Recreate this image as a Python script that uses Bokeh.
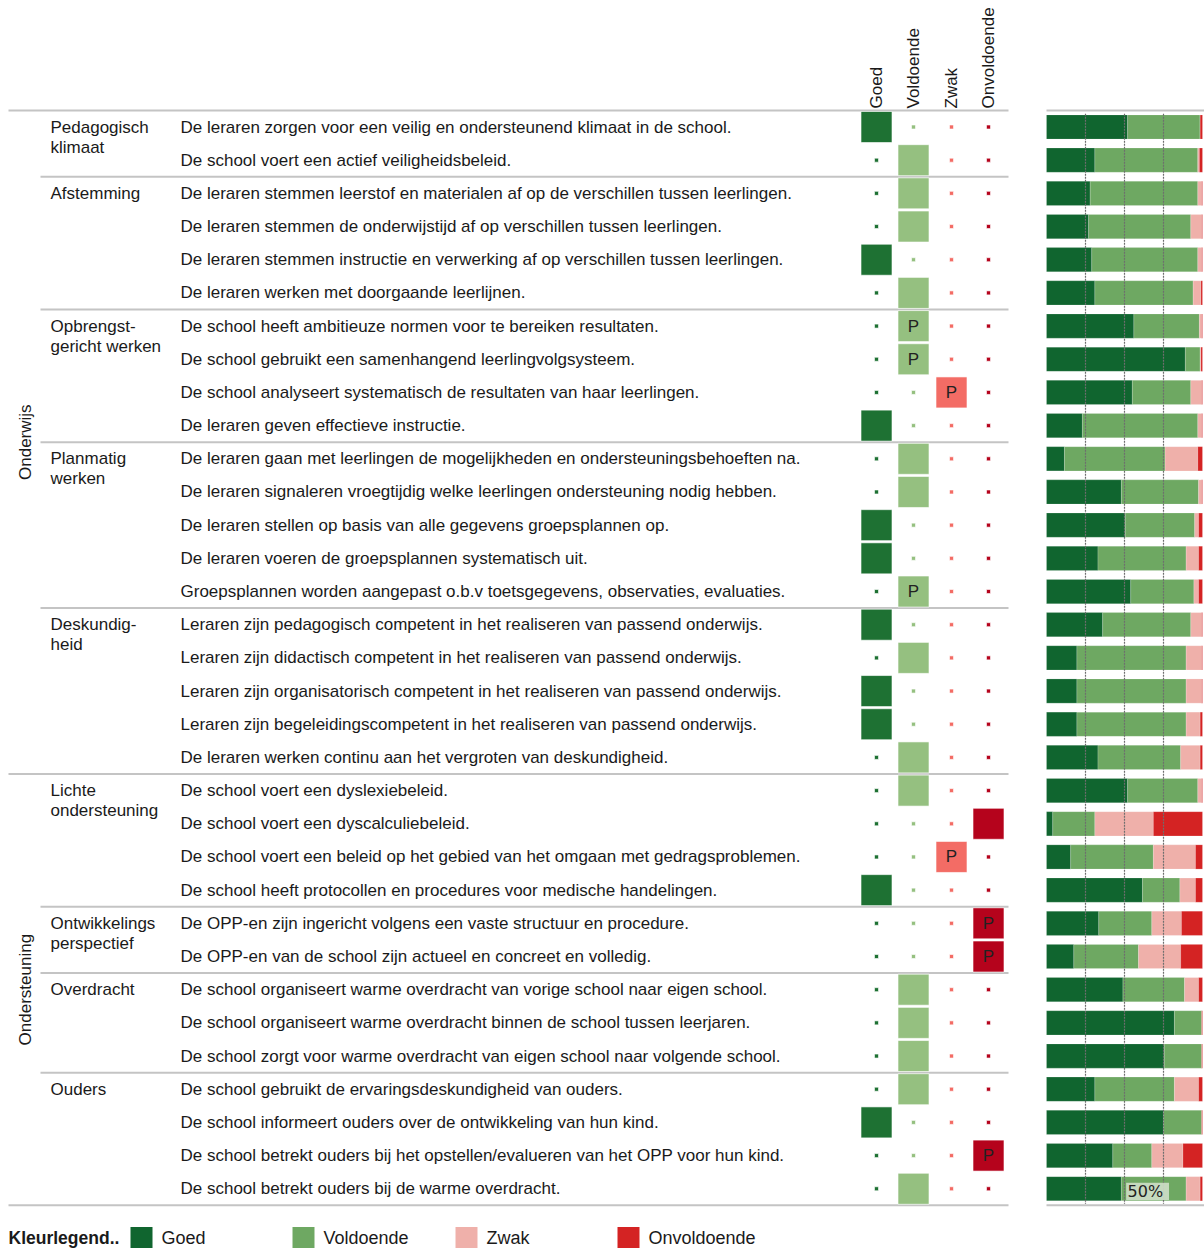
import math
from bokeh.plotting import figure
from bokeh.models import Range1d, ColumnDataSource
from bokeh.core.properties import value
from bokeh.embed import file_html
from bokeh.resources import INLINE

# ---------------- data ----------------
levels = ["Goed", "Voldoende", "Zwak", "Onvoldoende"]

sections = ["Onderwijs", "Ondersteuning"]
section_sizes = [20, 13]

groups = ["Pedagogisch\nklimaat", "Afstemming", "Opbrengst-\ngericht werken",
          "Planmatig\nwerken", "Deskundig-\nheid", "Lichte\nondersteuning",
          "Ontwikkelings\nperspectief", "Overdracht", "Ouders"]
group_sizes = [2, 4, 4, 5, 5, 4, 2, 3, 4]

items = [
    "De leraren zorgen voor een veilig en ondersteunend klimaat in de school.",
    "De school voert een actief veiligheidsbeleid.",
    "De leraren stemmen leerstof en materialen af op de verschillen tussen leerlingen.",
    "De leraren stemmen de onderwijstijd af op verschillen tussen leerlingen.",
    "De leraren stemmen instructie en verwerking af op  verschillen tussen leerlingen.",
    "De leraren werken met doorgaande leerlijnen.",
    "De school heeft ambitieuze normen voor te bereiken resultaten.",
    "De school gebruikt een samenhangend leerlingvolgsysteem.",
    "De school analyseert systematisch de resultaten van haar leerlingen.",
    "De leraren geven effectieve instructie.",
    "De leraren gaan met leerlingen de mogelijkheden en ondersteuningsbehoeften na.",
    "De leraren signaleren vroegtijdig welke leerlingen ondersteuning nodig hebben.",
    "De leraren stellen op basis van alle gegevens groepsplannen op.",
    "De leraren voeren de groepsplannen systematisch uit.",
    "Groepsplannen worden aangepast o.b.v toetsgegevens, observaties, evaluaties.",
    "Leraren zijn pedagogisch competent in het realiseren van passend onderwijs.",
    "Leraren zijn didactisch competent in het realiseren van passend onderwijs.",
    "Leraren zijn organisatorisch competent in het realiseren van passend onderwijs.",
    "Leraren zijn begeleidingscompetent in het realiseren van passend onderwijs.",
    "De leraren werken continu aan het vergroten van deskundigheid.",
    "De school voert een dyslexiebeleid.",
    "De school voert een dyscalculiebeleid.",
    "De school voert een beleid op het gebied van het omgaan met gedragsproblemen.",
    "De school heeft protocollen en procedures voor medische handelingen.",
    "De OPP-en zijn ingericht volgens een vaste structuur en procedure.",
    "De OPP-en van de school zijn actueel en concreet en volledig.",
    "De school organiseert warme overdracht van vorige school naar eigen school.",
    "De school organiseert warme overdracht binnen de school tussen leerjaren.",
    "De school zorgt voor warme overdracht van eigen school naar volgende school.",
    "De school gebruikt de ervaringsdeskundigheid van ouders.",
    "De school informeert ouders over de ontwikkeling van hun kind.",
    "De school betrekt ouders bij het opstellen/evalueren van het OPP voor hun kind.",
    "De school betrekt ouders bij de warme overdracht.",
]

rating = ["Goed", "Voldoende", "Voldoende", "Voldoende", "Goed", "Voldoende",
          "Voldoende", "Voldoende", "Zwak", "Goed",
          "Voldoende", "Voldoende", "Goed", "Goed", "Voldoende",
          "Goed", "Voldoende", "Goed", "Goed", "Voldoende",
          "Voldoende", "Onvoldoende", "Zwak", "Goed",
          "Onvoldoende", "Onvoldoende",
          "Voldoende", "Voldoende", "Voldoende",
          "Voldoende", "Goed", "Onvoldoende", "Voldoende"]

p_flag = [0, 0, 0, 0, 0, 0, 1, 1, 1, 0,
          0, 0, 0, 0, 1, 0, 0, 0, 0, 0,
          0, 0, 1, 0, 1, 1, 0, 0, 0, 0, 0, 1, 0]

pct_goed = [52, 31, 28, 27, 29, 31, 56, 89, 55, 23,
            11.5, 48, 50.5, 33, 54, 36, 19.5, 19.5, 19.5, 33,
            52, 4, 15.5, 61.5, 33.5, 17.5, 49, 82, 75.5, 31, 75, 42.5, 48]
pct_voldoende = [46.5, 66, 69, 65.5, 68, 63, 42, 9.5, 37.5, 74,
                 64.5, 49.5, 44.5, 56.5, 40.5, 56.5, 70, 70, 70, 53,
                 45, 27, 53, 24, 34, 41.5, 39.5, 17.5, 24, 51, 24.5, 25, 41.5]
pct_zwak = [0, 1, 2.5, 7, 2.5, 5, 1.5, 0.5, 7, 2.5,
            21, 2, 2.5, 8, 3, 7, 10, 10, 9, 12.5,
            2.5, 37.5, 27, 10, 19, 27, 9, 0, 0, 15.5, 0, 20, 9]
pct_onvoldoende = [1.5, 2, 0.5, 0.5, 0.5, 1, 0.5, 1, 0.5, 0.5,
                   3, 0.5, 2.5, 2.5, 2.5, 0.5, 0.5, 0.5, 1.5, 1.5,
                   0.5, 31.5, 4.5, 4.5, 13.5, 14, 2.5, 0.5, 0.5, 2.5, 0.5, 12.5, 1.5]

ref_lines = [25, 50, 75]

# ---------------- styling / layout ----------------
FONT = "Liberation Sans"
TXT = "#1a1a1a"
GRID = "#c4c4c4"
sq_colors = ["#1e7133", "#95c080", "#f36c65", "#b5031c"]
bar_colors = ["#10652f", "#6ea862", "#efb0aa", "#d42323"]

W, H = 1204, 1248
PITCH = 33.18
ROW0 = 126.5          # page y of first row centre
def ry(page_y):
    return (page_y - ROW0) / PITCH

n = len(items)
rows = list(range(n))

p = figure(width=W, height=H, output_backend="svg", toolbar_location=None,
           x_range=Range1d(0, W), y_range=Range1d(ry(H), ry(0)),
           x_axis_location=None, y_axis_location=None, min_border=0)
p.outline_line_color = None
p.grid.visible = False
p.background_fill_color = "white"
p.border_fill_color = "white"

# percentage range for the bar panel
BX0, BX1 = 1046, 1202
ppx = (BX1 - BX0) / 100.0
p.extra_x_ranges = {"pct": Range1d(-BX0 / ppx, 100 + (W - BX1) / ppx)}

# ---- separator lines ----
bounds = []
acc = 0
for g in group_sizes[:-1]:
    acc += g
    bounds.append(acc)
sec_bound = section_sizes[0]
x0s, x1s, ys = [8], [1008], [-0.5]
for b in bounds:
    x0s.append(8 if b == sec_bound else 40)
    x1s.append(1008)
    ys.append(b - 0.5)
x0s.append(8); x1s.append(1008); ys.append(n - 0.5)
p.segment(x0=x0s, x1=x1s, y0=ys, y1=ys, line_color=GRID, line_width=2)
p.segment(x0=[BX0, BX0], x1=[W, W], y0=[-0.5, n - 0.5], y1=[-0.5, n - 0.5],
          line_color=GRID, line_width=2)

# ---- section labels ----
start = 0
sx, sy = [], []
for s, c in zip(sections, section_sizes):
    sx.append(25)
    sy.append(start + (c - 1) / 2)
    start += c
p.text(x=sx, y=sy, text=sections, angle=math.pi / 2, text_align="center",
       text_baseline="middle", text_font=value(FONT), text_font_size="17px",
       text_color=TXT)

# ---- group labels ----
gx, gy, gt = [], [], []
start = 0
for g, c in zip(groups, group_sizes):
    for k, line in enumerate(g.split("\n")):
        gx.append(50)
        gy.append(start + k * 20 / PITCH)
        gt.append(line)
    start += c
p.text(x=gx, y=gy, text=gt, text_align="left", text_baseline="middle",
       text_font=value(FONT), text_font_size="17px", text_color=TXT)

# ---- item texts ----
p.text(x=[180] * n, y=rows, text=items, text_align="left", text_baseline="middle",
       text_font=value(FONT), text_font_size="17px", text_color=TXT)

# ---- rating matrix ----
col_x = [876, 913, 951, 988]
mx, my, ms, mc = [], [], [], []
for i in rows:
    for j, lev in enumerate(levels):
        mx.append(col_x[j]); my.append(i)
        ms.append(31 if rating[i] == lev else 4)
        mc.append(sq_colors[j])
p.scatter(x=mx, y=my, size=ms, marker="square", fill_color=mc,
          line_color="white", line_alpha=0.6, line_width=1)

px_, py_ = [], []
for i in rows:
    if p_flag[i]:
        px_.append(col_x[levels.index(rating[i])])
        py_.append(i)
p.text(x=px_, y=py_, text=["P"] * len(px_), text_align="center", text_baseline="middle",
       text_font=value(FONT), text_font_size="17px", text_color="#222222")

# ---- header labels ----
p.text(x=col_x, y=[ry(108)] * 4, text=levels, angle=math.pi / 2, text_align="left",
       text_baseline="middle", text_font=value(FONT), text_font_size="17px",
       text_color=TXT)

# ---- stacked bars ----
src = ColumnDataSource(dict(row=rows, Goed=pct_goed, Voldoende=pct_voldoende,
                            Zwak=pct_zwak, Onvoldoende=pct_onvoldoende))
p.hbar_stack(levels, y="row", height=0.73, color=bar_colors, source=src,
             x_range_name="pct", line_color="white", line_alpha=0.35, line_width=0.5)

p.segment(x0=ref_lines, x1=ref_lines, y0=[-0.4] * 3, y1=[n - 0.55] * 3,
          x_range_name="pct", line_color="#6e6e6e", line_width=1.2, line_dash="2 1")

# tooltip-like label on the 50% line
p.rect(x=[51 + 13.8], y=[n - 1 + 0.08], width=[27.5], height=[0.52],
       x_range_name="pct", fill_color="#d5e2cf", fill_alpha=0.85, line_color=None)
p.text(x=[52], y=[n - 1 + 0.08], text=["50%"], x_range_name="pct",
       text_align="left", text_baseline="middle", text_font=value("DejaVu Sans"),
       text_font_size="16px", text_color="#222222")

# ---- colour legend ----
leg_y = ry(1237)
p.text(x=[8], y=[leg_y], text=["Kleurlegend.."], text_align="left", text_baseline="middle",
       text_font=value(FONT), text_font_size="17.5px", text_font_style="bold", text_color=TXT)
leg_x = [141, 303, 466, 628]
p.rect(x=leg_x, y=[leg_y] * 4, width=22, height=21, width_units="screen",
       height_units="screen", fill_color=bar_colors, line_color=None)
p.text(x=[x + 20 for x in leg_x], y=[leg_y] * 4, text=levels, text_align="left",
       text_baseline="middle", text_font=value(FONT), text_font_size="18px",
       text_color=TXT)

open("out.html", "w").write(file_html(p, INLINE))
